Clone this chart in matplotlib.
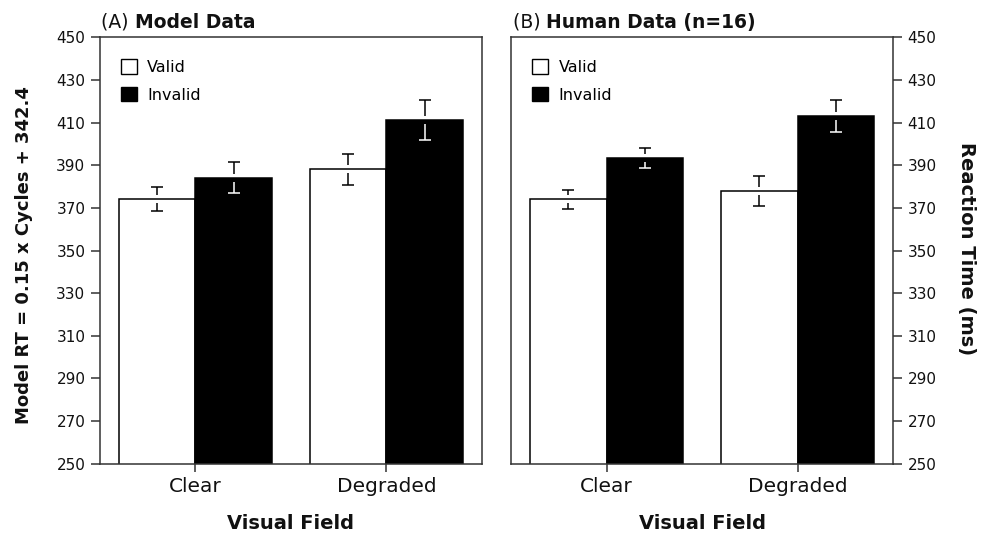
import numpy as np
import matplotlib.pyplot as plt
from matplotlib.patches import Patch

plt.rcParams['font.family'] = ['DejaVu Sans']

# values
fields = ['Clear', 'Degraded']
model_valid = [374.0, 388.2]
model_valid_err = [5.6, 7.3]
model_invalid = [384.2, 411.2]
model_invalid_err = [7.2, 9.4]
human_valid = [374.1, 377.8]
human_valid_err = [4.5, 7.0]
human_invalid = [393.3, 413.1]
human_invalid_err = [4.6, 7.3]
yticks = list(range(250, 451, 20))

spine_col = '#333333'
text_col = '#111111'


def draw_err(ax, x, mean, err, low_color):
    # stems stop a little short of the bar top, like the original
    gap = 1.9
    mean = np.asarray(mean)
    err = np.asarray(err)
    ax.vlines(x, mean + gap, mean + err, color='black', lw=1.1, zorder=3)
    ax.plot(x, mean + err, ls='none', marker='_', ms=9, mew=1.1, color='black', zorder=3)
    ax.vlines(x, mean - err, mean - gap, color=low_color, lw=1.1, zorder=3)
    ax.plot(x, mean - err, ls='none', marker='_', ms=9, mew=1.1, color=low_color, zorder=3)


def panel(ax, valid, valid_err, invalid, invalid_err, tag, title, side):
    x = np.arange(len(fields))
    w = 0.4
    ax.bar(x - w / 2, valid, w, color='white', edgecolor='black', lw=1.1)
    ax.bar(x + w / 2, invalid, w, color='black', edgecolor='black', lw=1.1)
    draw_err(ax, x - w / 2, valid, valid_err, 'black')
    draw_err(ax, x + w / 2, invalid, invalid_err, 'white')

    ax.set_xlim(-0.5, 1.5)
    ax.set_ylim(250, 450)
    ax.set_yticks(yticks)
    ax.set_xticks(x)
    ax.set_xticklabels(fields, fontsize=14.5, color=text_col)
    ax.tick_params(axis='x', direction='out', length=5.8, width=1.1,
                   color=spine_col, pad=4)
    ax.tick_params(axis='y', direction='out', length=6.5, width=1.1,
                   color=spine_col, labelsize=11, labelcolor=text_col, pad=4)
    if side == 'right':
        ax.yaxis.tick_right()
    for s in ax.spines.values():
        s.set_color(spine_col)
        s.set_linewidth(1.1)

    ax.set_xlabel('Visual Field', fontsize=14, fontweight='bold', color=text_col, labelpad=13)

    t = ax.text(0.004, 1.022, tag + ' ', transform=ax.transAxes, fontsize=13.5,
                va='baseline', ha='left', color=text_col)
    ax.annotate(title, xy=(1, 0), xycoords=t, va='bottom', ha='left',
                fontsize=13.5, fontweight='bold', color=text_col)

    handles = [Patch(facecolor='white', edgecolor='black', lw=1.0, label='Valid'),
               Patch(facecolor='black', edgecolor='black', lw=1.0, label='Invalid')]
    ax.legend(handles=handles, loc='upper left', bbox_to_anchor=(0.055, 0.948),
              frameon=False, fontsize=11.5, handlelength=1.0, handleheight=1.0,
              handletextpad=0.65, labelspacing=0.75, borderpad=0, borderaxespad=0)


fig = plt.figure(figsize=(9.82, 5.34), dpi=100)
ax1 = fig.add_axes([0.1018, 0.1316, 0.389, 0.7985])
ax2 = fig.add_axes([0.5204, 0.1316, 0.389, 0.7985])

panel(ax1, model_valid, model_valid_err, model_invalid, model_invalid_err,
      '(A)', 'Model Data', 'left')
panel(ax2, human_valid, human_valid_err, human_invalid, human_invalid_err,
      '(B)', 'Human Data (n=16)', 'right')

fig.text(24 / 982, 1 - 255 / 534, 'Model RT = 0.15 x Cycles + 342.4', rotation=90,
         ha='center', va='center', fontsize=13, fontweight='bold', color=text_col)
fig.text(967 / 982, 1 - 249 / 534, 'Reaction Time (ms)', rotation=270,
         ha='center', va='center', fontsize=14, fontweight='bold', color=text_col)

fig.savefig('out.png', dpi=100)
